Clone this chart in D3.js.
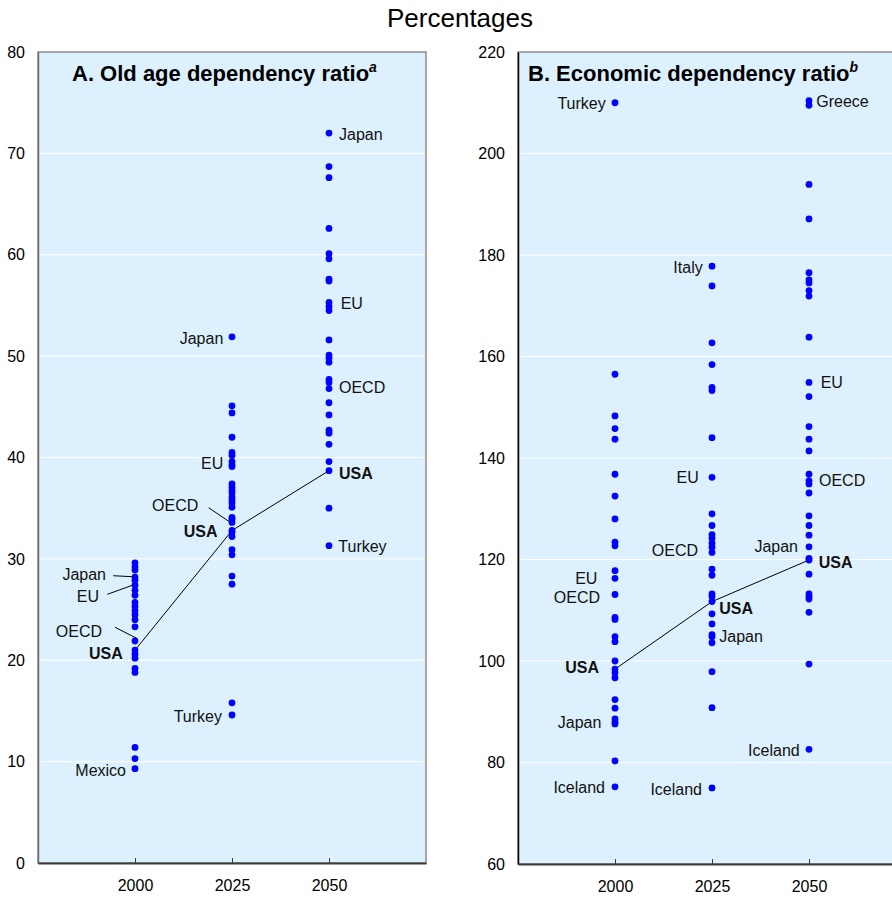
<!DOCTYPE html>
<html>
<head>
<meta charset="utf-8">
<script src="https://cdn.jsdelivr.net/npm/d3@7"></script>
<style>
  html, body { margin: 0; padding: 0; background: #fff; }
  svg { display: block; font-family: "Liberation Sans", Arial, sans-serif; }
</style>
</head>
<body>
<svg id="chart" width="892" height="898"></svg>
<script>
// ---- Data -------------------------------------------------------------
const years = [2000, 2025, 2050];
const yearTicks = ["2000", "2025", "2050"];

// A. Old age dependency ratio (per country, by year)
const oldAge2000 = [29.6, 29.2, 28.9, 28.2, 27.9, 27.4, 26.9, 26.4, 25.7, 25.3, 24.9, 24.5, 24.0, 23.3,
  21.9, 21.0, 20.6, 20.2, 19.2, 18.8, 11.4, 10.3, 9.3];
const oldAge2025 = [51.9, 45.1, 44.4, 42.0, 40.5, 40.2, 39.6, 39.3, 39.1, 37.4, 37.1, 36.8, 36.5, 36.1,
  35.8, 35.5, 35.1, 34.1, 33.9, 33.6, 32.8, 32.6, 32.2, 30.9, 30.4, 28.3, 27.5, 15.8, 14.6];
const oldAge2050 = [72.0, 68.7, 67.6, 62.6, 60.1, 59.6, 57.6, 57.4, 55.3, 54.9, 54.5, 51.6, 50.1, 49.8,
  49.4, 47.7, 47.4, 46.8, 45.4, 44.2, 42.7, 42.4, 41.3, 39.6, 38.7, 35.0, 31.3];
const oldAgeUSA = [21.0, 32.8, 38.7];
const oldAgeTicks = [0, 10, 20, 30, 40, 50, 60, 70, 80];

// B. Economic dependency ratio (per country, by year)
const econ2000 = [210.0, 156.5, 148.3, 145.8, 143.7, 136.8, 132.5, 128.0, 123.4, 122.7, 117.8, 116.3,
  113.1, 108.6, 108.2, 104.8, 103.8, 100.0, 98.4, 97.7, 96.7, 92.4, 90.7, 88.6, 88.0, 87.6, 80.3, 75.2];
const econ2025 = [177.8, 173.9, 162.7, 158.4, 153.9, 153.3, 144.0, 136.2, 129.0, 126.7, 124.9, 124.2,
  123.2, 122.4, 121.4, 118.1, 116.9, 113.2, 112.7, 111.7, 109.3, 107.3, 105.2, 104.8, 103.6, 97.9, 90.8, 75.0];
const econ2050 = [210.4, 209.5, 193.9, 187.1, 176.5, 175.1, 174.5, 173.0, 171.9, 163.8, 154.9, 152.1,
  146.2, 143.7, 141.4, 136.8, 135.5, 134.9, 133.1, 128.6, 126.7, 124.8, 122.5, 120.2, 119.9, 117.1,
  113.2, 112.7, 112.2, 109.6, 99.4, 82.6];
const econUSA = [98.4, 111.7, 119.9];
const econTicks = [60, 80, 100, 120, 140, 160, 180, 200, 220];

// Named points: year, value, name
const oldAgeNamed = [
  [2000, 28.2, "Japan"], [2000, 27.4, "EU"], [2000, 21.9, "OECD"], [2000, 21.0, "USA"], [2000, 9.3, "Mexico"],
  [2025, 51.9, "Japan"], [2025, 39.3, "EU"], [2025, 33.6, "OECD"], [2025, 32.8, "USA"], [2025, 14.6, "Turkey"],
  [2050, 72.0, "Japan"], [2050, 55.3, "EU"], [2050, 46.8, "OECD"], [2050, 38.7, "USA"], [2050, 31.3, "Turkey"]
];
const econNamed = [
  [2000, 210.0, "Turkey"], [2000, 116.3, "EU"], [2000, 113.1, "OECD"], [2000, 98.4, "USA"], [2000, 88.0, "Japan"], [2000, 75.2, "Iceland"],
  [2025, 177.8, "Italy"], [2025, 136.2, "EU"], [2025, 121.4, "OECD"], [2025, 111.7, "USA"], [2025, 104.8, "Japan"], [2025, 75.0, "Iceland"],
  [2050, 210.4, "Greece"], [2050, 154.9, "EU"], [2050, 134.9, "OECD"], [2050, 122.5, "Japan"], [2050, 119.9, "USA"], [2050, 82.6, "Iceland"]
];

// ---- Label placement (pixel offsets from the point) -------------------
// [dx, dy, leader?]  negative dx = text ends left of the point
const oldAgeLabelPos = [
  [-29, -3, [-21.7, -1.4, -2, -0.4]], [-36, 11.5, [-27.7, 9.1, -2, -0.2]], [-33, -9.3, [-20, -13.7, 1.7, -2.7]], [-12.3, 3.2], [-9, 1.3],
  [-8.7, 1.4], [-8.7, -1.3], [-33.7, -17.4, [-23.4, -14.7, -2.7, -0.7]], [-14.4, 0.5], [-10, 1.7],
  [10, 1.6], [11.7, 0.6], [10, -1.3], [10, 2.6], [9.3, 1]
];
const econLabelPos = [
  [-9.3, 0.5], [-17.6, 0], [-15, 2.8], [-16, -1.4], [-13.6, 0], [-10, 0.4],
  [-9.3, 1.5], [-13.3, 0.4], [-14, -2.4], [7.3, 6.7], [7.3, 0], [-10, 1.4],
  [7.3, 1], [11.7, 0], [10, -3.2], [-11, -0.8], [9.7, 2.3], [-9.3, 1.4]
];

// ---- Drawing ------------------------------------------------------------
const svg = d3.select("#chart");
const BG = "#ddf0fe";
const DOT = "#0000ff";

svg.append("text")
  .attr("x", 460).attr("y", 27)
  .attr("text-anchor", "middle")
  .attr("font-size", 26)
  .attr("fill", "#000")
  .text("Percentages");

function panel(cfg) {
  const { left, right, top, bottom, domain, ticks, columns, usa, named, pos, title, sup, leftAxisColor } = cfg;
  const g = svg.append("g");
  const x = d3.scaleLinear().domain([1975, 2075]).range([left, right]);
  const y = d3.scaleLinear().domain(domain).range([bottom, top]);

  // plot area
  g.append("rect")
    .attr("x", left).attr("y", top)
    .attr("width", right - left).attr("height", bottom - top)
    .attr("fill", BG)
    .attr("stroke", "#8c8c8c").attr("stroke-width", 1.5);

  // horizontal gridlines
  g.append("g")
    .selectAll("line")
    .data(ticks.slice(1, -1))
    .join("line")
    .attr("x1", left + 1).attr("x2", right - 1)
    .attr("y1", d => y(d)).attr("y2", d => y(d))
    .attr("stroke", "#fff").attr("stroke-width", 1);

  // y axis
  const yAxis = g.append("g")
    .attr("transform", `translate(${left},0)`)
    .call(d3.axisLeft(y).tickValues(ticks).tickSize(0).tickPadding(13).tickFormat(d3.format("d")));
  yAxis.select(".domain").attr("stroke", leftAxisColor).attr("stroke-width", 1.5);
  yAxis.selectAll("text").attr("font-size", 16).attr("fill", "#000")
    .attr("font-family", "Liberation Sans, Arial, sans-serif");

  // x axis
  const xAxis = g.append("g")
    .attr("transform", `translate(0,${bottom})`)
    .call(d3.axisBottom(x).tickValues(years).tickSize(-5).tickSizeOuter(0)
      .tickPadding(17).tickFormat((d, i) => yearTicks[i]));
  xAxis.select(".domain").attr("stroke", "#3c3c3c").attr("stroke-width", 2);
  xAxis.selectAll(".tick line").attr("stroke", "#3c3c3c");
  xAxis.selectAll("text").attr("font-size", 16).attr("fill", "#000")
    .attr("font-family", "Liberation Sans, Arial, sans-serif");

  // title
  const t = g.append("text")
    .attr("x", left + cfg.titleDx).attr("y", top + 29)
    .attr("font-size", 22).attr("font-weight", "bold").attr("fill", "#000")
    .text(title);
  t.append("tspan")
    .attr("dy", -9).attr("font-size", 14).attr("font-style", "italic")
    .text(sup);

  // USA line
  g.append("path")
    .datum(years.map((yr, i) => [yr, usa[i]]))
    .attr("fill", "none").attr("stroke", "#000").attr("stroke-width", 1)
    .attr("d", d3.line().x(d => x(d[0])).y(d => y(d[1])));

  // points
  const pts = [];
  years.forEach((yr, i) => columns[i].forEach(v => pts.push([yr, v])));
  g.append("g")
    .selectAll("circle")
    .data(pts)
    .join("circle")
    .attr("cx", d => x(d[0])).attr("cy", d => y(d[1]))
    .attr("r", 3.4).attr("fill", DOT);

  // leaders and labels
  named.forEach((d, i) => {
    const [yr, v, name] = d;
    const [dx, dy, leader] = pos[i];
    const px = x(yr), py = y(v);
    if (leader) {
      g.append("line")
        .attr("x1", px + leader[0]).attr("y1", py + leader[1])
        .attr("x2", px + leader[2]).attr("y2", py + leader[3])
        .attr("stroke", "#000").attr("stroke-width", 1);
    }
    g.append("text")
      .attr("x", px + dx).attr("y", py + dy)
      .attr("dy", "0.36em")
      .attr("text-anchor", dx < 0 ? "end" : "start")
      .attr("font-size", 16)
      .attr("font-weight", name === "USA" ? "bold" : "normal")
      .attr("fill", "#111")
      .text(name);
  });
}

panel({
  left: 38, right: 426, top: 52, bottom: 863,
  domain: [0, 80], ticks: oldAgeTicks,
  columns: [oldAge2000, oldAge2025, oldAge2050],
  usa: oldAgeUSA, named: oldAgeNamed, pos: oldAgeLabelPos,
  title: "A. Old age dependency ratio", sup: "a", titleDx: 34,
  leftAxisColor: "#707070"
});

panel({
  left: 518, right: 906, top: 52, bottom: 864,
  domain: [60, 220], ticks: econTicks,
  columns: [econ2000, econ2025, econ2050],
  usa: econUSA, named: econNamed, pos: econLabelPos,
  title: "B. Economic dependency ratio", sup: "b", titleDx: 10,
  leftAxisColor: "#000"
});
</script>
</body>
</html>
